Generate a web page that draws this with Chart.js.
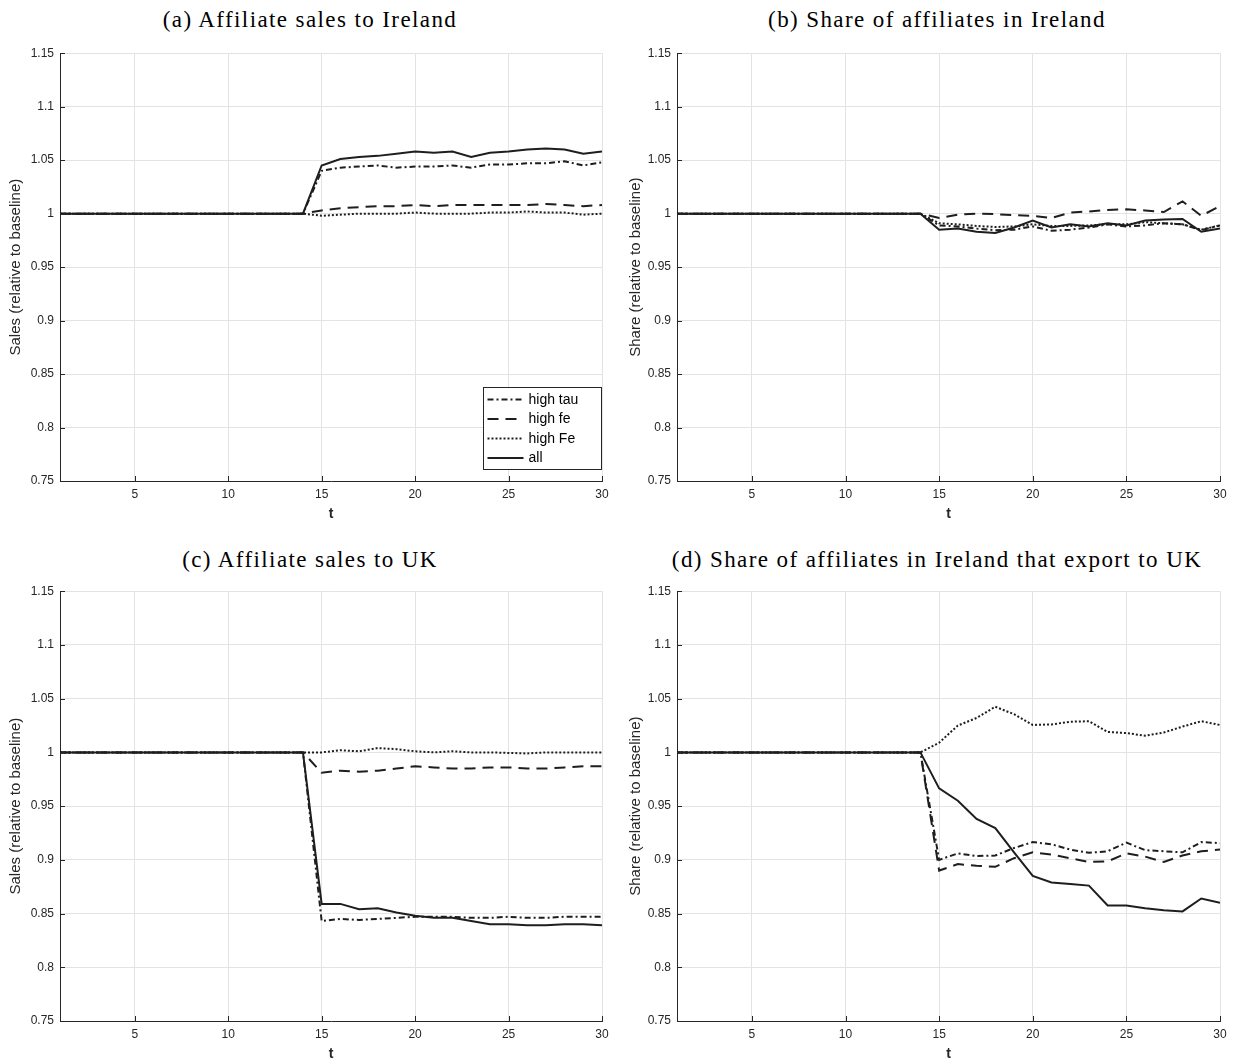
<!DOCTYPE html>
<html><head><meta charset="utf-8">
<script src="https://cdn.jsdelivr.net/npm/chart.js@4.4.1/dist/chart.umd.min.js"></script>
<style>
html,body{margin:0;padding:0;background:#fff;}
body{width:1233px;height:1061px;position:relative;overflow:hidden;}
canvas{position:absolute;}
.ttl{position:absolute;font-family:"Liberation Serif",serif;font-size:23px;letter-spacing:1.4px;color:#000;white-space:nowrap;line-height:23px;text-align:center;}
.lc{left:0px;width:620px;}
.rc{left:641px;width:592px;}
</style></head><body>
<div class="ttl lc" style="top:8px">(a) Affiliate sales to Ireland</div>
<div class="ttl rc" style="top:8px">(b) Share of affiliates in Ireland</div>
<div class="ttl lc" style="top:548px">(c) Affiliate sales to UK</div>
<div class="ttl rc" style="top:548px">(d) Share of affiliates in Ireland that export to UK</div>
<canvas id="ca" width="616" height="490" style="left:0px;top:40px"></canvas>
<canvas id="cb" width="613" height="490" style="left:620px;top:40px"></canvas>
<canvas id="cc" width="616" height="492" style="left:0px;top:578px"></canvas>
<canvas id="cd" width="613" height="492" style="left:620px;top:578px"></canvas>
<script>
// ---- data ----
const t = [1,2,3,4,5,6,7,8,9,10,11,12,13,14,15,16,17,18,19,20,21,22,23,24,25,26,27,28,29,30];
const xTicks = [5,10,15,20,25,30];
const yTicks = [0.75,0.8,0.85,0.9,0.95,1,1.05,1.1,1.15];
const yTickLabels = ['0.75','0.8','0.85','0.9','0.95','1','1.05','1.1','1.15'];
const seriesNames = ['high tau','high fe','high Fe','all'];

// (a) Affiliate sales to Ireland
const salesIE_tau = [1,1,1,1,1,1,1,1,1,1,1,1,1,1,1.040,1.043,1.044,1.045,1.043,1.044,1.044,1.045,1.043,1.046,1.046,1.047,1.047,1.049,1.045,1.048];
const salesIE_fe  = [1,1,1,1,1,1,1,1,1,1,1,1,1,1,1.003,1.005,1.006,1.007,1.007,1.008,1.007,1.008,1.008,1.008,1.008,1.008,1.009,1.008,1.007,1.008];
const salesIE_Fe  = [1,1,1,1,1,1,1,1,1,1,1,1,1,1,0.998,0.999,1.000,1.000,1.000,1.001,1.000,1.000,1.000,1.001,1.001,1.002,1.001,1.001,0.999,1.000];
const salesIE_all = [1,1,1,1,1,1,1,1,1,1,1,1,1,1,1.045,1.051,1.053,1.054,1.056,1.058,1.057,1.058,1.053,1.057,1.058,1.060,1.061,1.060,1.056,1.058];

// (b) Share of affiliates in Ireland
const shareIE_tau = [1,1,1,1,1,1,1,1,1,1,1,1,1,1,0.989,0.988,0.986,0.9845,0.985,0.988,0.984,0.985,0.987,0.990,0.988,0.989,0.991,0.990,0.9845,0.989];
const shareIE_fe  = [1,1,1,1,1,1,1,1,1,1,1,1,1,1,0.996,0.999,1.000,0.9995,0.9985,0.998,0.996,1.001,1.002,1.0035,1.004,1.003,1.0015,1.0115,0.998,1.007];
const shareIE_Fe  = [1,1,1,1,1,1,1,1,1,1,1,1,1,1,0.991,0.990,0.9885,0.9875,0.988,0.990,0.9885,0.9885,0.989,0.990,0.990,0.992,0.991,0.990,0.985,0.989];
const shareIE_all = [1,1,1,1,1,1,1,1,1,1,1,1,1,1,0.985,0.986,0.983,0.982,0.987,0.9935,0.987,0.990,0.988,0.991,0.989,0.9935,0.9945,0.995,0.983,0.986];

// (c) Affiliate sales to UK
const salesUK_tau = [1,1,1,1,1,1,1,1,1,1,1,1,1,1,0.843,0.845,0.844,0.845,0.846,0.847,0.847,0.847,0.846,0.846,0.847,0.846,0.846,0.847,0.847,0.847];
const salesUK_fe  = [1,1,1,1,1,1,1,1,1,1,1,1,1,1,0.981,0.983,0.982,0.983,0.985,0.987,0.986,0.985,0.985,0.986,0.986,0.985,0.985,0.986,0.987,0.987];
const salesUK_Fe  = [1,1,1,1,1,1,1,1,1,1,1,1,1,1,1.000,1.002,1.001,1.004,1.003,1.001,1.000,1.001,1.000,1.000,0.9995,0.999,1.000,1.000,1.000,1.000];
const salesUK_all = [1,1,1,1,1,1,1,1,1,1,1,1,1,1,0.859,0.859,0.854,0.855,0.851,0.848,0.846,0.846,0.843,0.840,0.840,0.839,0.839,0.840,0.840,0.839];

// (d) Share of affiliates in Ireland that export to UK
const shareUK_tau = [1,1,1,1,1,1,1,1,1,1,1,1,1,1,0.900,0.906,0.9035,0.904,0.911,0.9165,0.9145,0.9095,0.9065,0.908,0.916,0.909,0.908,0.907,0.9165,0.9155];
const shareUK_fe  = [1,1,1,1,1,1,1,1,1,1,1,1,1,1,0.890,0.896,0.8945,0.8935,0.9015,0.907,0.905,0.9015,0.898,0.8985,0.906,0.903,0.898,0.904,0.908,0.9095];
const shareUK_Fe  = [1,1,1,1,1,1,1,1,1,1,1,1,1,1,1.009,1.025,1.032,1.0425,1.0355,1.0255,1.026,1.0285,1.029,1.019,1.018,1.0155,1.0185,1.024,1.029,1.0255];
const shareUK_all = [1,1,1,1,1,1,1,1,1,1,1,1,1,1,0.9665,0.955,0.938,0.9295,0.907,0.885,0.879,0.8775,0.876,0.8575,0.8575,0.855,0.853,0.852,0.864,0.860];

// ---- styles ----
const LINE = '#1e1e1e';
const AXIS = '#262626';
const GRID = '#e3e3e3';
const dashes = [[6,3,2,3],[11,7],[2,2],[]];
const orders = [3,2,1,0];

const inTicks = {
  id:'inTicks',
  afterDatasetsDraw(c){
    const ctx=c.ctx, a=c.chartArea, x=c.scales.x, y=c.scales.y;
    ctx.save(); ctx.strokeStyle=AXIS; ctx.lineWidth=1; ctx.setLineDash([]);
    ctx.beginPath();
    x.ticks.forEach(tk=>{const px=Math.round(x.getPixelForValue(tk.value))+0.5; ctx.moveTo(px,a.bottom); ctx.lineTo(px,a.bottom-5);});
    y.ticks.forEach(tk=>{const py=Math.round(y.getPixelForValue(tk.value))+0.5; ctx.moveTo(a.left,py); ctx.lineTo(a.left+5,py);});
    ctx.stroke(); ctx.restore();
  }
};

const boxLegend = {
  id:'boxLegend',
  afterDraw(c, args, opts){
    if(!opts.show) return;
    const ctx=c.ctx, a=c.chartArea;
    const w=118, h=82;
    const bx=Math.round(a.right-119)+0.5, by=Math.round(a.bottom-94)+0.5;
    ctx.save();
    ctx.fillStyle='#fff'; ctx.fillRect(bx,by,w,h);
    ctx.strokeStyle=AXIS; ctx.lineWidth=1; ctx.setLineDash([]); ctx.strokeRect(bx,by,w,h);
    const rows=[12,31.5,51,70.5];
    c.data.datasets.forEach((ds,i)=>{
      const yy=by+rows[i];
      ctx.beginPath(); ctx.strokeStyle=LINE; ctx.lineWidth=2; ctx.setLineDash(ds.borderDash||[]);
      ctx.moveTo(bx+4,yy); ctx.lineTo(bx+40,yy); ctx.stroke();
      ctx.setLineDash([]);
      ctx.fillStyle='#000'; ctx.font='14px "Liberation Sans", Arial, sans-serif';
      ctx.textBaseline='middle'; ctx.textAlign='left';
      ctx.fillText(ds.label,bx+45,yy+0.5);
    });
    ctx.restore();
  }
};

function makeChart(id, series, ylabel, yw, rp, showLegend){
  const ds = series.map((s,i)=>({
    label: seriesNames[i], data: s.map((v,k)=>({x:t[k], y:v})), borderColor: LINE, backgroundColor: LINE,
    borderWidth: 2, borderDash: dashes[i], pointRadius: 0, tension: 0, fill:false, order: orders[i]
  }));
  const cv = document.getElementById(id);
  new Chart(cv, {
    type:'line',
    data:{ labels: t, datasets: ds },
    options:{
      responsive:false, animation:false, devicePixelRatio:1,
      layout:{ padding:{left:0, top:13, right:rp, bottom:0} },
      plugins:{ legend:{display:false}, tooltip:{enabled:false}, title:{display:false}, boxLegend:{show:showLegend} },
      scales:{
        x:{ type:'linear', min:1, max:30,
          afterBuildTicks(s){ s.ticks = xTicks.map(v=>({value:v})); },
          afterFit(s){ s.height = 49; },
          grid:{ color:GRID, drawTicks:false, lineWidth:1 },
          border:{ display:true, color:AXIS, width:1 },
          ticks:{ color:AXIS, padding:6, font:{family:'"Liberation Sans", Arial, sans-serif', size:12}, maxRotation:0, autoSkip:false,
            callback:(v)=>String(v) },
          title:{ display:true, text:'t', color:AXIS, font:{family:'"Liberation Sans", Arial, sans-serif', size:14, weight:'bold'}, padding:{top:0,bottom:7} }
        },
        y:{ type:'linear', min:0.75, max:1.15,
          afterBuildTicks(s){ s.ticks = yTicks.map(v=>({value:v})); },
          afterFit(s){ s.width = yw; },
          grid:{ color:GRID, drawTicks:false, lineWidth:1 },
          border:{ display:true, color:AXIS, width:1 },
          ticks:{ color:AXIS, padding:6, font:{family:'"Liberation Sans", Arial, sans-serif', size:12}, autoSkip:false,
            callback:(v,i)=>yTickLabels[i] },
          title:{ display:true, text:ylabel, color:AXIS, font:{family:'"Liberation Sans", Arial, sans-serif', size:15}, padding:{top:7,bottom:0} }
        }
      }
    },
    plugins:[inTicks, boxLegend]
  });
}

makeChart('ca', [salesIE_tau, salesIE_fe, salesIE_Fe, salesIE_all], 'Sales (relative to baseline)', 60, 14, true);
makeChart('cb', [shareIE_tau, shareIE_fe, shareIE_Fe, shareIE_all], 'Share (relative to baseline)', 57, 13, false);
makeChart('cc', [salesUK_tau, salesUK_fe, salesUK_Fe, salesUK_all], 'Sales (relative to baseline)', 60, 14, false);
makeChart('cd', [shareUK_tau, shareUK_fe, shareUK_Fe, shareUK_all], 'Share (relative to baseline)', 57, 13, false);
</script>
</body></html>
